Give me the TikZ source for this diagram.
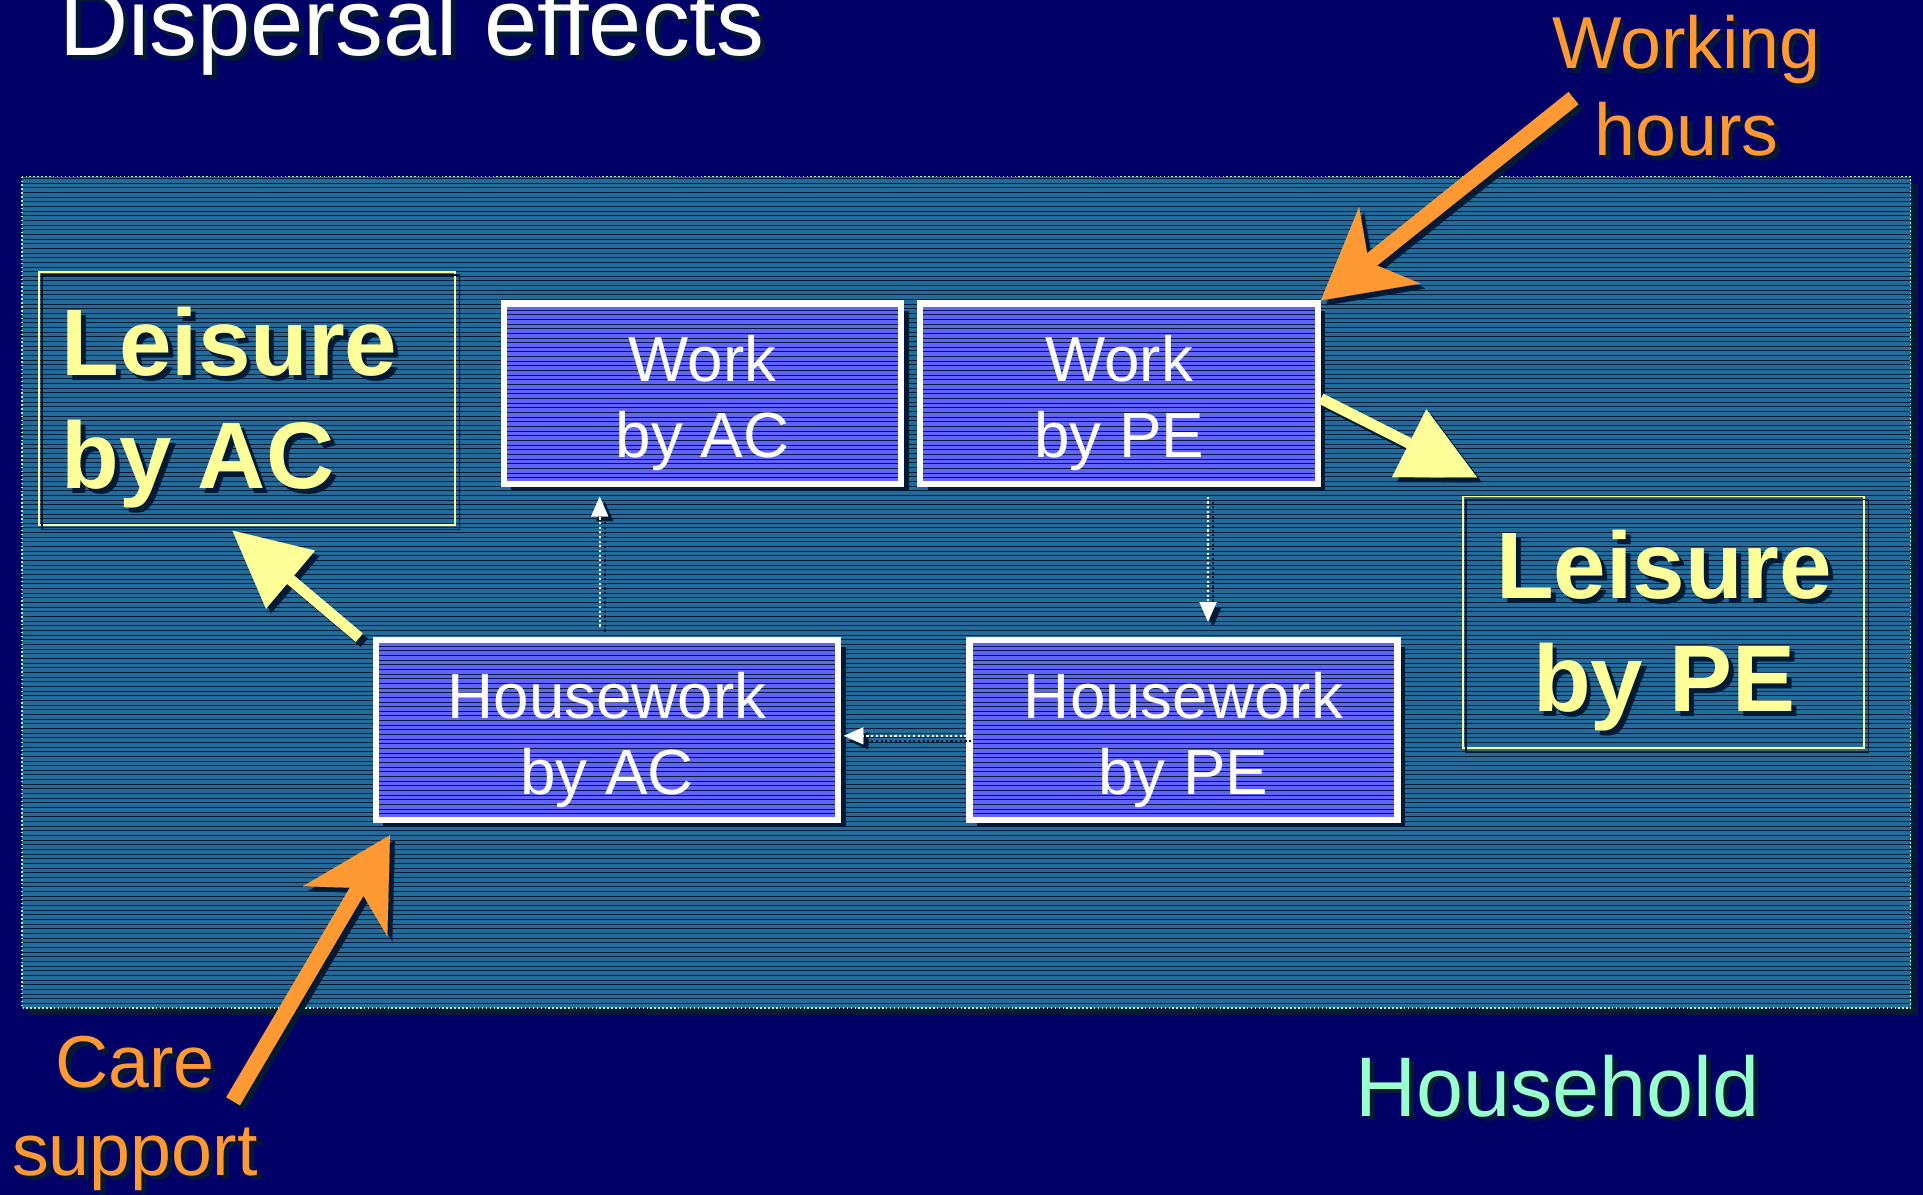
\documentclass[tikz,border=0pt]{standalone}
\usepackage{fontspec}
\setmainfont{Liberation Sans}
\usetikzlibrary{arrows.meta,shadows}

\definecolor{bgnavy}{RGB}{0,0,102}
\definecolor{panelc}{RGB}{32,108,154}
\definecolor{stripec}{RGB}{8,28,58}
\definecolor{boxc}{RGB}{98,98,255}
\definecolor{shadowc}{RGB}{4,26,52}
\definecolor{yellowc}{RGB}{255,255,153}
\definecolor{orangec}{RGB}{255,153,51}
\definecolor{mintc}{RGB}{153,255,204}

\tikzset{
  hstripes/.style={path picture={
      \foreach \k in {0,3.8,...,#1}
        \draw[stripec,line width=0.8pt]
          ([yshift={-(\k+1.5)*1pt}]path picture bounding box.north west) --
          ([yshift={-(\k+1.5)*1pt}]path picture bounding box.north east);}},
  workbox/.style={draw=white, line width=5pt, fill=boxc, hstripes=160,
      minimum width=#1, minimum height=147pt, inner sep=0pt,
      drop shadow={shadow xshift=6pt, shadow yshift=-6pt, fill=shadowc, opacity=1}},
  leisurebox/.style={draw=yellowc, line width=1.3pt, inner sep=0pt},
  boxtext/.style={anchor=north, align=center, inner sep=0pt, text=white,
      font=\fontsize{52}{62}\selectfont},
  leisuretext/.style={inner sep=0pt, text=yellowc,
      font=\bfseries\fontsize{77}{92}\selectfont},
  labeltext/.style={inner sep=0pt, align=center, font=\fontsize{60}{71}\selectfont},
  tsh/.style={text=shadowc, xshift=4pt, yshift=-4pt},
  orangearrow/.style={draw=orangec, line width=13pt,
      -{Stealth[length=72pt, width=80pt, inset=22pt, line width=0.1pt]}},
  yellowarrow/.style={draw=yellowc, line width=9pt,
      -{Triangle[length=62pt, width=62pt, line width=0.1pt]}},
  dotarrow/.style={draw=white, line width=1.8pt, dotted,
      -{Triangle[length=16pt, width=14pt, line width=0.1pt]}},
  arrshadow/.style={draw=shadowc, transform canvas={xshift=4pt, yshift=-4pt}},
}

\begin{document}
\begin{tikzpicture}[x=1pt, y=-1pt]
\useasboundingbox (0,0) rectangle (1568,974);
\clip (0,0) rectangle (1568,974);
\fill[bgnavy] (0,0) rectangle (1568,974);

% household panel
\fill[shadowc] (24,150) rectangle (1564,828);
\path[fill=panelc, hstripes=700] (18,144) rectangle (1558,822);
\draw[mintc, dotted, line width=1.2pt] (18,144) rectangle (1558,822);

% title
\node[anchor=base west, inner sep=0pt, font=\fontsize{78}{78}\selectfont, tsh] (titleS) at (48,45) {Dispersal effects};
\node[anchor=base west, inner sep=0pt, font=\fontsize{78}{78}\selectfont, text=white] (title) at (48,45) {Dispersal effects};

% leisure boxes
\node[leisurebox, minimum width=339pt, minimum height=206pt] (lac) at (201.5,325) {};
\node[leisurebox, minimum width=327pt, minimum height=205pt] (lpe) at (1356.5,507.5) {};
\draw[shadowc, line width=1.3pt] ([shift={(3,3)}]lac.north west) rectangle ([shift={(3,3)}]lac.south east);
\draw[shadowc, line width=1.3pt] ([shift={(3,3)}]lpe.north west) rectangle ([shift={(3,3)}]lpe.south east);

\node[leisuretext, anchor=north west, align=left, tsh] (lacS) at (50,250) {Leisure\\by AC};
\node[leisuretext, anchor=north west, align=left] (lact) at (50,250) {Leisure\\by AC};
\node[leisuretext, anchor=north, align=center, tsh] (lpeS) at (1357,432) {Leisure\\by PE};
\node[leisuretext, anchor=north, align=center] (lpet) at (1357,432) {Leisure\\by PE};

% work / housework boxes
\node[workbox=324pt] (wac) at (573,321) {};
\node[workbox=324pt] (wpe) at (912.5,321) {};
\node[workbox=377pt] (hac) at (495,595) {};
\node[workbox=349pt] (hpe) at (965,595) {};

\node[boxtext] (wact) at (573,273) {Work\\by AC};
\node[boxtext] (wpet) at (912.5,273) {Work\\by PE};
\node[boxtext] (hact) at (495,548) {Housework\\by AC};
\node[boxtext] (hpet) at (965,548) {Housework\\by PE};

% dotted connectors
\draw[dotarrow, arrshadow] ([xshift=-6pt,yshift=8pt]hac.north) -- ([xshift=-84pt,yshift=-8pt]wac.south);
\draw[dotarrow] ([xshift=-6pt,yshift=8pt]hac.north) -- ([xshift=-84pt,yshift=-8pt]wac.south);
\draw[dotarrow, arrshadow] ([xshift=72.5pt,yshift=-8pt]wpe.south) -- ([xshift=20pt,yshift=12pt]hpe.north);
\draw[dotarrow] ([xshift=72.5pt,yshift=-8pt]wpe.south) -- ([xshift=20pt,yshift=12pt]hpe.north);
\draw[dotarrow, arrshadow] ([yshift=-5pt]hpe.west) -- ([xshift=2pt,yshift=-5pt]hac.east);
\draw[dotarrow] ([yshift=-5pt]hpe.west) -- ([xshift=2pt,yshift=-5pt]hac.east);

% labels outside the panel
\node[labeltext, anchor=north, tsh] (whS) at (1375,12) {Working\\hours};
\node[labeltext, anchor=north, text=orangec] (wh) at (1375,12) {Working\\hours};
\node[labeltext, anchor=north, tsh] (csS) at (110,845) {Care\\support};
\node[labeltext, anchor=north, text=orangec] (cs) at (110,845) {Care\\support};
\node[anchor=base, inner sep=0pt, font=\fontsize{69}{69}\selectfont, tsh] (hhS) at (1270,910) {Household};
\node[anchor=base, inner sep=0pt, font=\fontsize{69}{69}\selectfont, text=mintc] (hh) at (1270,910) {Household};

% arrow start points
\coordinate (whs) at (1283,80);
\coordinate (css) at (190,898);

% orange arrows
\draw[orangearrow, arrshadow] (whs) -- (wpe.north east);
\draw[orangearrow] (whs) -- (wpe.north east);
\draw[orangearrow, arrshadow] (css) -- ([shift={(14,10)}]hac.south west);
\draw[orangearrow] (css) -- ([shift={(14,10)}]hac.south west);

% yellow arrows
\draw[yellowarrow, arrshadow] ([yshift=-4pt]wpe.east) -- ([shift={(12,-15)}]lpe.north west);
\draw[yellowarrow] ([yshift=-4pt]wpe.east) -- ([shift={(12,-15)}]lpe.north west);
\draw[yellowarrow, arrshadow] ([shift={(-11,1)}]hac.north west) -- ([shift={(-12,4)}]lac.south);
\draw[yellowarrow] ([shift={(-11,1)}]hac.north west) -- ([shift={(-12,4)}]lac.south);
\end{tikzpicture}
\end{document}
